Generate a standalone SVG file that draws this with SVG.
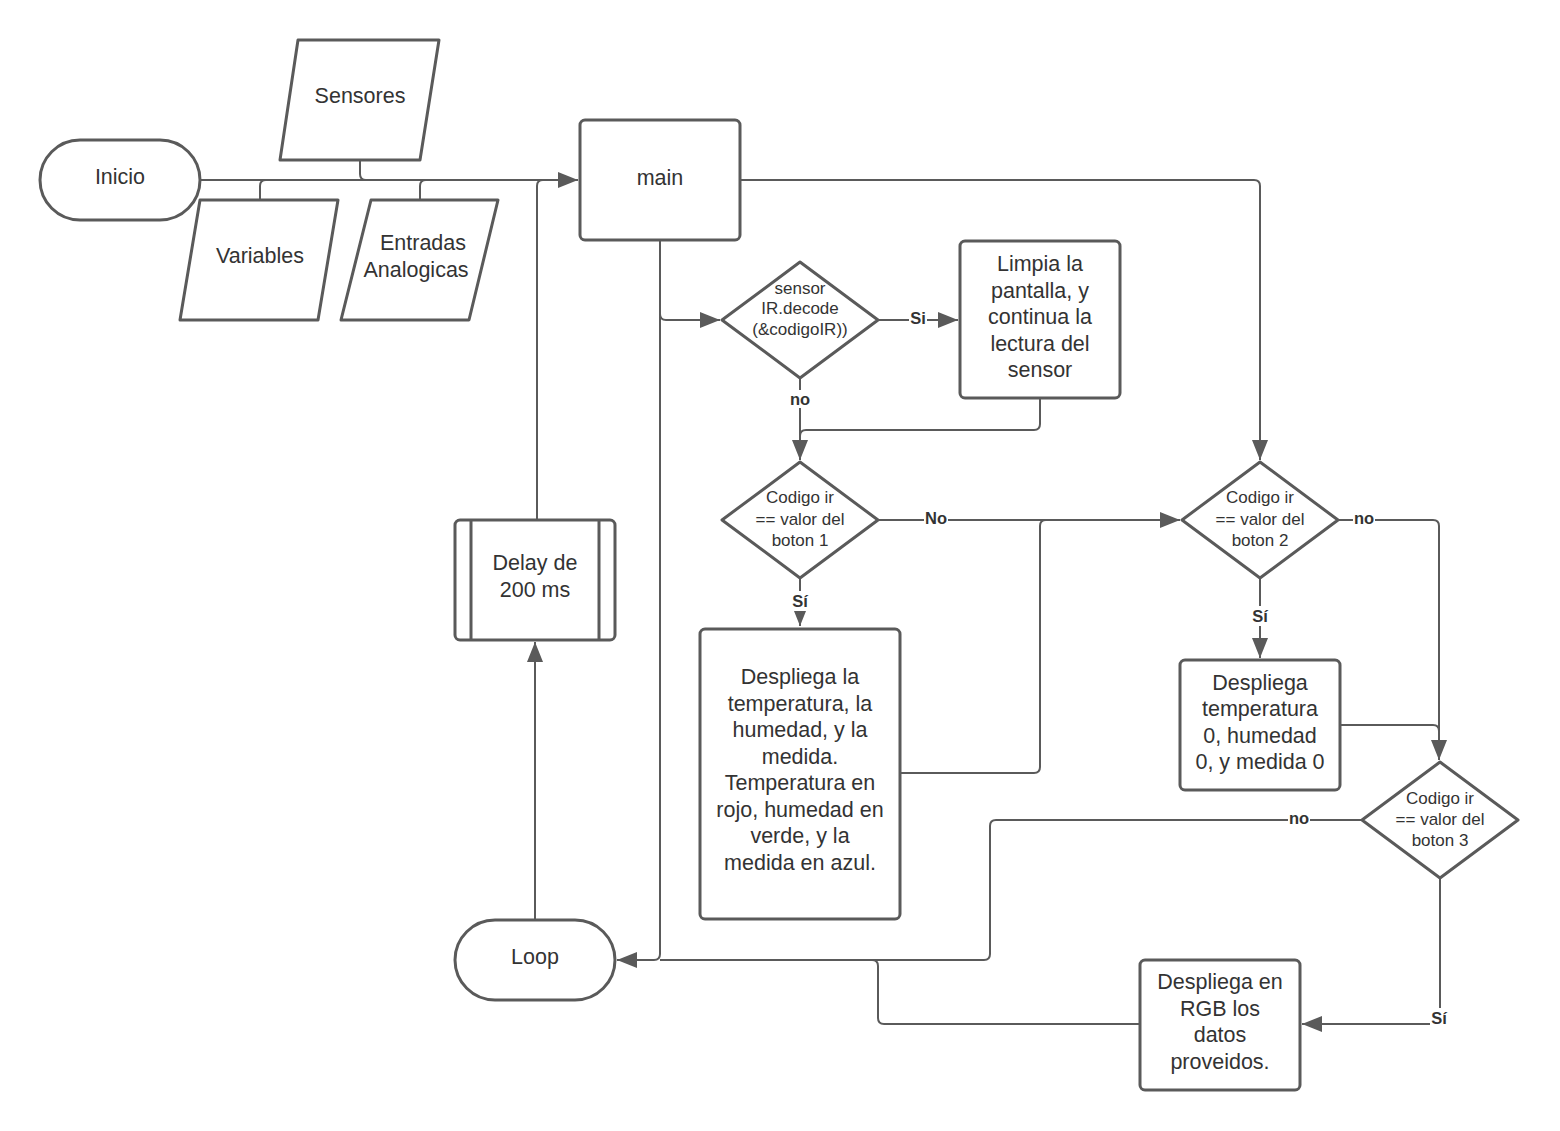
<svg xmlns="http://www.w3.org/2000/svg" width="1560" height="1131" viewBox="0 0 1560 1131">
<defs>
<marker id="arr" viewBox="0 0 20 16" refX="20" refY="8" markerWidth="20" markerHeight="16" markerUnits="userSpaceOnUse" orient="auto">
<path d="M0,0 L20,8 L0,16 Z" fill="#5a5a5a"/>
</marker>
</defs>
<style>
.shape{fill:#fff;stroke:#5a5a5a;stroke-width:3;stroke-linejoin:round}
.conn{fill:none;stroke:#5a5a5a;stroke-width:2;stroke-linejoin:round}
.t{font-family:"Liberation Sans",Arial,sans-serif;font-size:21.5px;fill:#333;text-anchor:middle;dominant-baseline:central}
.s{font-size:17px}
.lbl{font-family:"Liberation Sans",Arial,sans-serif;font-size:16.5px;font-weight:bold;fill:#333;text-anchor:middle;dominant-baseline:central}
.bg{fill:#fff;stroke:none}
</style>
<rect width="1560" height="1131" fill="#fff"/>
<g id="connectors">
<path class="conn" d="M200,180 H578" marker-end="url(#arr)"/>
<path class="conn" d="M360,160 V174 Q360,180 366,180"/>
<path class="conn" d="M260,200 V186 Q260,180 266,180"/>
<path class="conn" d="M420,200 V186 Q420,180 426,180"/>
<path class="conn" d="M537,520 V186 Q537,180 543,180"/>
<path class="conn" d="M740,180 H1254 Q1260,180 1260,186 V460" marker-end="url(#arr)"/>
<path class="conn" d="M660,240 V954 Q660,960 654,960 H617" marker-end="url(#arr)"/>
<path class="conn" d="M660,314 Q660,320 666,320 H720" marker-end="url(#arr)"/>
<path class="conn" d="M878,320 H958" marker-end="url(#arr)"/>
<path class="conn" d="M800,378 V460" marker-end="url(#arr)"/>
<path class="conn" d="M1040,398 V424 Q1040,430 1034,430 H806 Q800,430 800,436"/>
<path class="conn" d="M878,520 H1180" marker-end="url(#arr)"/>
<path class="conn" d="M900,773 H1034 Q1040,773 1040,767 V526 Q1040,520 1046,520"/>
<path class="conn" d="M800,578 V626" marker-end="url(#arr)"/>
<path class="conn" d="M1338,520 H1433 Q1439,520 1439,526 V760" marker-end="url(#arr)"/>
<path class="conn" d="M1260,578 V658" marker-end="url(#arr)"/>
<path class="conn" d="M1340,725 H1433 Q1439,725 1439,731"/>
<path class="conn" d="M1362,820 H996 Q990,820 990,826 V954 Q990,960 984,960 H660"/>
<path class="conn" d="M1440,878 V1024 H1302" marker-end="url(#arr)"/>
<path class="conn" d="M1140,1024 H884 Q878,1024 878,1018 V966 Q878,960 872,960"/>
<path class="conn" d="M535,920 V642" marker-end="url(#arr)"/>
<rect class="bg" x="909" y="309" width="18" height="18"/>
<text class="lbl" x="918" y="318">Si</text>
<rect class="bg" x="789" y="390" width="22" height="18"/>
<text class="lbl" x="800" y="399">no</text>
<rect class="bg" x="924" y="509" width="24" height="18"/>
<text class="lbl" x="936" y="518">No</text>
<rect class="bg" x="790" y="591" width="20" height="20"/>
<text class="lbl" x="800" y="601">Sí</text>
<rect class="bg" x="1353" y="509" width="22" height="18"/>
<text class="lbl" x="1364" y="518">no</text>
<rect class="bg" x="1250" y="606" width="20" height="20"/>
<text class="lbl" x="1260" y="616">Sí</text>
<rect class="bg" x="1288" y="809" width="22" height="18"/>
<text class="lbl" x="1299" y="818">no</text>
<rect class="bg" x="1430" y="1008" width="18" height="20"/>
<text class="lbl" x="1439" y="1018">Sí</text>
</g>
<g id="inicio">
<rect class="shape" x="40" y="140" width="160" height="80" rx="40"/>
<text class="t" x="120" y="177">Inicio</text>
</g>
<g id="sensores">
<path class="shape" d="M298,40 H439 L420,160 H280 Z"/>
<text class="t" x="360" y="96">Sensores</text>
</g>
<g id="variables">
<path class="shape" d="M200,200 H338 L318,320 H180 Z"/>
<text class="t" x="260" y="256">Variables</text>
</g>
<g id="entradas">
<path class="shape" d="M371,200 H498 L469,320 H341 Z"/>
<text class="t" x="423" y="243">Entradas</text>
<text class="t" x="416" y="270">Analogicas</text>
</g>
<g id="main">
<rect class="shape" x="580" y="120" width="160" height="120" rx="5"/>
<text class="t" x="660" y="178">main</text>
</g>
<g id="decode">
<path class="shape" d="M722,320 L800,262 L878,320 L800,378 Z"/>
<text class="t s" x="800" y="288">sensor</text>
<text class="t s" x="800" y="308">IR.decode</text>
<text class="t s" x="800" y="329">(&amp;codigoIR))</text>
</g>
<g id="limpia">
<rect class="shape" x="960" y="241" width="160" height="157" rx="5"/>
<text class="t" x="1040" y="264">Limpia la</text>
<text class="t" x="1040" y="291">pantalla, y</text>
<text class="t" x="1040" y="317">continua la</text>
<text class="t" x="1040" y="344">lectura del</text>
<text class="t" x="1040" y="370">sensor</text>
</g>
<g id="boton1">
<path class="shape" d="M722,520 L800,462 L878,520 L800,578 Z"/>
<text class="t s" x="800" y="497">Codigo ir</text>
<text class="t s" x="800" y="519">== valor del</text>
<text class="t s" x="800" y="540">boton 1</text>
</g>
<g id="despliega1">
<rect class="shape" x="700" y="629" width="200" height="290" rx="5"/>
<text class="t" x="800" y="677">Despliega la</text>
<text class="t" x="800" y="704">temperatura, la</text>
<text class="t" x="800" y="730">humedad, y la</text>
<text class="t" x="800" y="757">medida.</text>
<text class="t" x="800" y="783">Temperatura en</text>
<text class="t" x="800" y="810">rojo, humedad en</text>
<text class="t" x="800" y="836">verde, y la</text>
<text class="t" x="800" y="863">medida en azul.</text>
</g>
<g id="boton2">
<path class="shape" d="M1182,520 L1260,462 L1338,520 L1260,578 Z"/>
<text class="t s" x="1260" y="497">Codigo ir</text>
<text class="t s" x="1260" y="519">== valor del</text>
<text class="t s" x="1260" y="540">boton 2</text>
</g>
<g id="despliega2">
<rect class="shape" x="1180" y="660" width="160" height="130" rx="5"/>
<text class="t" x="1260" y="683">Despliega</text>
<text class="t" x="1260" y="709">temperatura</text>
<text class="t" x="1260" y="736">0, humedad</text>
<text class="t" x="1260" y="762">0, y medida 0</text>
</g>
<g id="boton3">
<path class="shape" d="M1362,820 L1440,762 L1518,820 L1440,878 Z"/>
<text class="t s" x="1440" y="798">Codigo ir</text>
<text class="t s" x="1440" y="819">== valor del</text>
<text class="t s" x="1440" y="840">boton 3</text>
</g>
<g id="rgb">
<rect class="shape" x="1140" y="960" width="160" height="130" rx="5"/>
<text class="t" x="1220" y="982">Despliega en</text>
<text class="t" x="1220" y="1009">RGB los</text>
<text class="t" x="1220" y="1035">datos</text>
<text class="t" x="1220" y="1062">proveidos.</text>
</g>
<g id="loop">
<rect class="shape" x="455" y="920" width="160" height="80" rx="40"/>
<text class="t" x="535" y="957">Loop</text>
</g>
<g id="delay">
<rect class="shape" x="455" y="520" width="160" height="120" rx="5"/>
<path class="shape" d="M471,520 V640 M599,520 V640"/>
<text class="t" x="535" y="563">Delay de</text>
<text class="t" x="535" y="590">200 ms</text>
</g>
</svg>
